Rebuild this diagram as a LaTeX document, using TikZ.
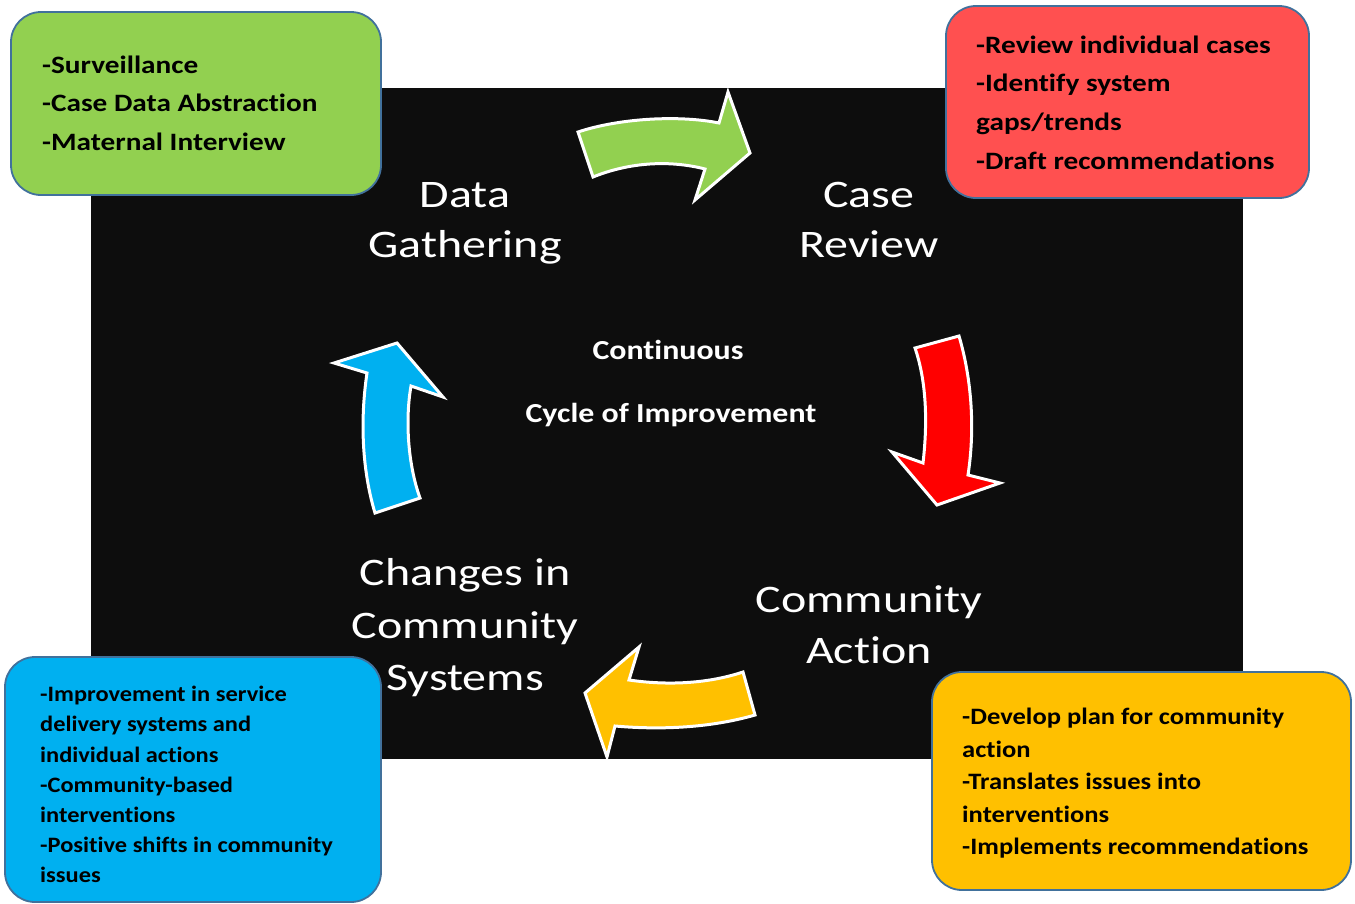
\documentclass[tikz,border=0pt]{standalone}
\usepackage{fontspec}
\setmainfont{Carlito}[Ligatures=NoCommon]
\newfontfamily\fontA[FakeStretch=1.17,Ligatures=NoCommon]{Carlito}
\newfontfamily\fontB[FakeStretch=1.11,Ligatures=NoCommon]{Carlito}
\newfontfamily\fontC[FakeStretch=1.13,Ligatures=NoCommon]{Carlito}
\newfontfamily\fontD[FakeStretch=1.23,Ligatures=NoCommon]{Carlito}
\newfontfamily\fontE[FakeStretch=1.16,Ligatures=NoCommon]{Carlito}
\definecolor{bg}{HTML}{0D0D0D}
\definecolor{cgreen}{HTML}{92D050}
\definecolor{cred}{HTML}{FF0000}
\definecolor{cpink}{HTML}{FF5050}
\definecolor{cyellow}{HTML}{FFC000}
\definecolor{cblue}{HTML}{00B0F0}
\definecolor{cborder}{HTML}{41719C}
\begin{document}
\begin{tikzpicture}[x=1pt,y=-1pt,
  infobox/.style={draw=cborder,line width=1.8pt,rounded corners=30pt},
  blockarrow/.style={draw=white,line width=3pt,line join=miter},
  biglabel/.style={text=white,font=\fontD\fontsize{39}{50}\selectfont,anchor=base,inner sep=0pt},
  boxtext/.style={text=black,anchor=base west,inner sep=0pt},
  midtext/.style={text=white,font=\fontE\bfseries\fontsize{27.5}{30}\selectfont,anchor=base,inner sep=0pt}]
\useasboundingbox (0,0) rectangle (1355,903);
\fill[white] (0,0) rectangle (1355,903);
% black background
\fill[bg] (91,88) rectangle (1243,759);
% info boxes
\draw[infobox,fill=cgreen] (11,12) rectangle (381,195);
\draw[infobox,fill=cpink] (946,6) rectangle (1309,198);
\draw[infobox,fill=cblue] (5,657) rectangle (381,902);
\draw[infobox,fill=cyellow] (932,672) rectangle (1351,890);
\foreach \t [count=\i] in {-Surveillance,-Case Data Abstraction,-Maternal Interview}
  \node[boxtext,font=\fontA\bfseries\fontsize{25}{30}\selectfont] (g\i) at (42,{73+38.7*(\i-1)}) {\t};
\foreach \t [count=\i] in {-Review individual cases,-Identify system,gaps/trends,-Draft recommendations}
  \node[boxtext,font=\fontA\bfseries\fontsize{25}{30}\selectfont] (r\i) at (976,{53+38.8*(\i-1)}) {\t};
\foreach \t [count=\i] in {-Improvement in service,delivery systems and,individual actions,-Community-based,interventions,-Positive shifts in community,issues}
  \node[boxtext,font=\fontB\bfseries\fontsize{22}{30}\selectfont] (b\i) at (40,{701.7+30.17*(\i-1)}) {\t};
\foreach \t [count=\i] in {-Develop plan for community,action,-Translates issues into,interventions,-Implements recommendations}
  \node[boxtext,font=\fontC\bfseries\fontsize{23.5}{30}\selectfont] (y\i) at (962,{724.5+32.5*(\i-1)}) {\t};
% block arrows
\draw[blockarrow,fill=cgreen] (578,132) .. controls (620,118) and (680,115) .. (719,123) -- (728,92) -- (750,153) -- (695,200) -- (705,169) .. controls (670,160) and (630,162) .. (593,177) -- cycle;
\draw[blockarrow,fill=cred] (915,348) -- (959,336) .. controls (972,380) and (975,430) .. (968,475) -- (1000,483) -- (937,505) -- (892,452) -- (923,463) .. controls (928,420) and (926,380) .. (915,348) -- cycle;
\draw[blockarrow,fill=cyellow] (743,672) -- (755,715) .. controls (710,728) and (660,730) .. (615,726) -- (607,757) -- (585,693) -- (639,647) -- (629,680) .. controls (670,686) and (710,683) .. (743,672) -- cycle;
\draw[blockarrow,fill=cblue] (375,513) .. controls (362,470) and (360,420) .. (367,373) -- (334,363) -- (397,343) -- (443,397) -- (411,386) .. controls (405,420) and (408,465) .. (420,498) -- cycle;
% stage labels
\node[biglabel] (dg1) at (465,207) {Data};
\node[biglabel] (dg2) at (465,257) {Gathering};
\node[biglabel] (cr1) at (869,207) {Case};
\node[biglabel] (cr2) at (869,257) {Review};
\node[biglabel] (ca1) at (869,612) {Community};
\node[biglabel] (ca2) at (869,663) {Action};
\node[biglabel] (cs1) at (465,585) {Changes in};
\node[biglabel] (cs2) at (465,638) {Community};
\node[biglabel] (cs3) at (465,690) {Systems};
% centre
\node[midtext] (cont) at (668,359.3) {Continuous};
\node[midtext] (cyc) at (671,422.7) {Cycle of Improvement};
\end{tikzpicture}
\end{document}
